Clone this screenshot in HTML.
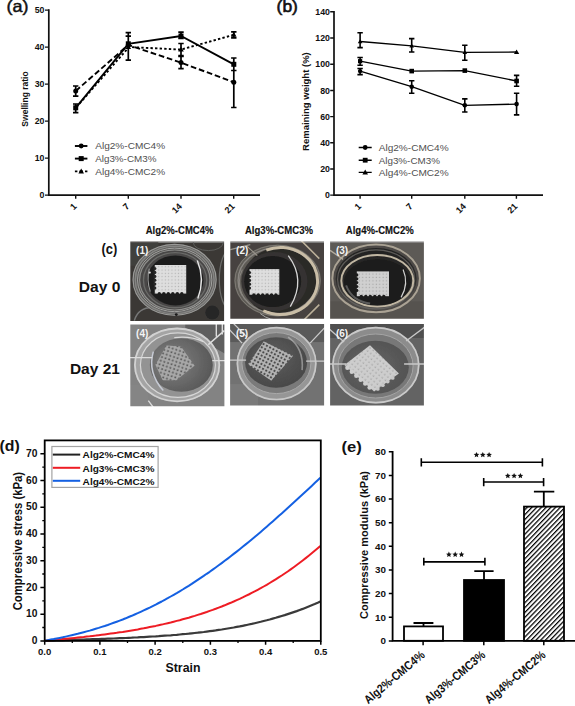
<!DOCTYPE html>
<html><head><meta charset="utf-8">
<style>
html,body{margin:0;padding:0;background:#fff;}
body{width:575px;height:706px;overflow:hidden;position:relative;}
svg{position:absolute;left:0;top:0;display:block;}
text{font-family:"Liberation Sans",sans-serif;}
.b{font-weight:bold;}
</style></head><body>
<svg width="575" height="706" viewBox="0 0 575 706">
<rect x="0" y="0" width="575" height="706" fill="#fff"/>

<!-- ============ PANEL A ============ -->
<g id="pa">
<text x="6.6" y="12.2" font-size="16.5" fill="#111" stroke="#111" stroke-width="0.45" textLength="22" lengthAdjust="spacingAndGlyphs">(a)</text>
<!-- axes -->
<path d="M48.8 9.3 V195.1 H260" fill="none" stroke="#111" stroke-width="1.7"/>
<path d="M45 10.1H48.8 M45 47.1H48.8 M45 84.1H48.8 M45 121.1H48.8 M45 158.1H48.8 M45 195.1H48.8" stroke="#111" stroke-width="1.4"/>
<path d="M75.7 195V198.8 M128.3 195V198.8 M181 195V198.8 M233.7 195V198.8" stroke="#111" stroke-width="1.4"/>
<g font-size="8.8" class="b" fill="#111" text-anchor="end">
<text x="44.5" y="13.1">50</text>
<text x="44.5" y="50.1">40</text>
<text x="44.5" y="87.1">30</text>
<text x="44.5" y="124.1">20</text>
<text x="44.5" y="161.1">10</text>
<text x="44.5" y="198.1">0</text>
</g>
<g font-size="9" class="b" fill="#111" text-anchor="end">
<text transform="translate(77.4,206.9) rotate(-45)">1</text>
<text transform="translate(130.0,206.9) rotate(-45)">7</text>
<text transform="translate(182.5,206.9) rotate(-45)">14</text>
<text transform="translate(235.3,206.9) rotate(-45)">21</text>
</g>
<text transform="translate(27.9,99) rotate(-90)" font-size="8.5" class="b" fill="#111" text-anchor="middle">Swelling ratio</text>

<!-- series lines -->
<g fill="none" stroke="#000" stroke-width="1.9">
<!-- square solid -->
<polyline points="75.7,107.8 128.3,43.8 181,36 233.8,64.3"/>
<!-- circle dashed -->
<polyline points="75.7,91 128.3,45 181,62.6 233.8,82.3" stroke-dasharray="5.7 2.8"/>
<!-- triangle dotted -->
<polyline points="76.5,107 129,47 181,49.6 233.8,34.8" stroke-dasharray="2.4 2.2"/>
</g>
<!-- error bars -->
<g fill="none" stroke="#000" stroke-width="1.7">
<path d="M75.7 86V96.2 M73 86H78.4 M73 96.2H78.4"/>
<path d="M75.7 104V112.7 M73 104H78.4 M73 112.7H78.4"/>
<path d="M128.3 32.7V60.1 M125.6 32.7H131 M125.6 36.1H131 M125.6 60.1H131"/>
<path d="M181 32.2V38.3 M178.3 32.2H183.7 M178.3 38.3H183.7"/>
<path d="M181 43.5V55.7 M178.3 43.5H183.7 M178.3 55.7H183.7"/>
<path d="M181 56.5V68.7 M178.3 56.5H183.7 M178.3 68.7H183.7"/>
<path d="M233.8 31.8V37.8 M231.1 31.8H236.5 M231.1 37.8H236.5"/>
<path d="M233.8 58V107.5 M231.1 58H236.5 M231.1 107.5H236.5 M231.1 70.5H236.5"/>
</g>
<!-- markers -->
<g fill="#000">
<circle cx="75.7" cy="91" r="2.5"/>
<circle cx="128.3" cy="45" r="2.5"/>
<circle cx="181" cy="62.6" r="2.5"/>
<circle cx="233.8" cy="82.3" r="2.5"/>
<rect x="73.2" y="105.3" width="5" height="5"/>
<rect x="125.8" y="41.3" width="5" height="5"/>
<rect x="178.5" y="33.5" width="5" height="5"/>
<rect x="231.3" y="61.8" width="5" height="5"/>
<path d="M128.3 44.2 L131.1 49 H125.5Z"/>
<path d="M181 46.8 L183.8 51.6 H178.2Z"/>
<path d="M233.8 32 L236.6 36.8 H231Z"/>
</g>
<!-- legend -->
<g stroke="#000" stroke-width="1.9" fill="none">
<path d="M74.9 146H87.4"/>
<path d="M74.9 158.6H87.4"/>
<path d="M74.9 171.4H77.4 M79.4 171.4H83 M85 171.4H87.4"/>
</g>
<g fill="#000">
<circle cx="81.2" cy="146" r="2.4"/>
<rect x="78.7" y="156.1" width="5" height="5"/>
<path d="M81.2 168.6 L84 173.4 H78.4Z"/>
</g>
<g font-size="9.6" fill="#505050">
<text x="95.2" y="149.4" textLength="70" lengthAdjust="spacingAndGlyphs">Alg2%-CMC4%</text>
<text x="95.2" y="162" textLength="61.2" lengthAdjust="spacingAndGlyphs">Alg3%-CM3%</text>
<text x="95.2" y="174.8" textLength="70" lengthAdjust="spacingAndGlyphs">Alg4%-CMC2%</text>
</g>
</g>

<!-- ============ PANEL B ============ -->
<g id="pb">
<text x="276.6" y="12.2" font-size="16.5" fill="#111" stroke="#111" stroke-width="0.6" textLength="21.3" lengthAdjust="spacingAndGlyphs">(b)</text>
<path d="M334 11 V195.1 H543" fill="none" stroke="#111" stroke-width="1.7"/>
<path d="M330.2 11.7H334 M330.2 38H334 M330.2 64.3H334 M330.2 90.5H334 M330.2 116.6H334 M330.2 142.8H334 M330.2 169H334 M330.2 195.1H334" stroke="#111" stroke-width="1.4"/>
<path d="M360.1 195V198.8 M411.7 195V198.8 M464.8 195V198.8 M516.4 195V198.8" stroke="#111" stroke-width="1.4"/>
<g font-size="8.8" class="b" fill="#111" text-anchor="end">
<text x="330" y="14.7">140</text>
<text x="330" y="41">120</text>
<text x="330" y="67.3">100</text>
<text x="330" y="93.5">80</text>
<text x="330" y="119.6">60</text>
<text x="330" y="145.8">40</text>
<text x="330" y="172">20</text>
<text x="330" y="198.1">0</text>
</g>
<g font-size="9" class="b" fill="#111" text-anchor="end">
<text transform="translate(361.8,206.9) rotate(-45)">1</text>
<text transform="translate(413.4,206.9) rotate(-45)">7</text>
<text transform="translate(466.5,206.9) rotate(-45)">14</text>
<text transform="translate(518.1,206.9) rotate(-45)">21</text>
</g>
<text transform="translate(309.2,101.6) rotate(-90)" font-size="9.5" class="b" fill="#111" text-anchor="middle">Remaining weight (%)</text>

<g fill="none" stroke="#000" stroke-width="1.3">
<polyline points="360.1,41.5 411.7,45.9 464.8,52.3 516.6,52"/>
<polyline points="360.1,61.2 411.7,71.1 464.8,70.6 516.6,81"/>
<polyline points="360.1,71.1 411.7,86.7 464.8,105.3 516.6,104.1"/>
</g>
<g fill="none" stroke="#000" stroke-width="1.6">
<path d="M360.1 32.8V47.6 M357.4 32.8H362.8 M357.4 47.6H362.8"/>
<path d="M360.1 57.5V65.3 M357.4 57.5H362.8 M357.4 65.3H362.8"/>
<path d="M360.1 68.5V74.6 M357.4 68.5H362.8 M357.4 74.6H362.8"/>
<path d="M411.7 38.6V52 M409 38.6H414.4 M409 52H414.4"/>
<path d="M411.7 80.7V93.2 M409 80.7H414.4 M409 93.2H414.4"/>
<path d="M464.8 45.3V60.3 M462.1 45.3H467.5 M462.1 60.3H467.5"/>
<path d="M464.8 98.9V112 M462.1 98.9H467.5 M462.1 112H467.5"/>
<path d="M516.6 75.4V86.2 M513.9 75.4H519.3 M513.9 86.2H519.3"/>
<path d="M516.6 93.2V114.9 M513.9 93.2H519.3 M513.9 114.9H519.3"/>
</g>
<g fill="#000">
<path d="M360.1 39.2 L362.4 43.2 H357.8Z"/>
<path d="M411.7 43.6 L414 47.6 H409.4Z"/>
<path d="M464.8 50 L467.1 54 H462.5Z"/>
<path d="M516.6 49.4 L519.2 54 H514Z"/>
<rect x="358" y="59.1" width="4.2" height="4.2"/>
<rect x="409.4" y="68.8" width="4.6" height="4.6"/>
<rect x="462.5" y="68.3" width="4.6" height="4.6"/>
<rect x="514.3" y="78.7" width="4.6" height="4.6"/>
<circle cx="360.1" cy="71.1" r="2.2"/>
<circle cx="411.7" cy="86.7" r="2.3"/>
<circle cx="464.8" cy="105.3" r="2.3"/>
<circle cx="516.6" cy="104.1" r="2.3"/>
</g>
<g stroke="#000" stroke-width="1.4" fill="none">
<path d="M358.7 147.5H371.7 M358.7 160.2H371.7 M358.7 172.4H371.7"/>
</g>
<g fill="#000">
<circle cx="365.2" cy="147.5" r="2.4"/>
<rect x="362.8" y="157.8" width="4.8" height="4.8"/>
<path d="M365.2 169.6 L368 174.4 H362.4Z"/>
</g>
<g font-size="9.6" fill="#505050">
<text x="378.7" y="150.9" textLength="70" lengthAdjust="spacingAndGlyphs">Alg2%-CMC4%</text>
<text x="378.7" y="163.6" textLength="61.2" lengthAdjust="spacingAndGlyphs">Alg3%-CM3%</text>
<text x="378.7" y="175.8" textLength="70" lengthAdjust="spacingAndGlyphs">Alg4%-CMC2%</text>
</g>
</g>

<!-- ============ PANEL C ============ -->
<defs>
<filter id="soft" x="-5%" y="-5%" width="110%" height="110%"><feGaussianBlur stdDeviation="0.55"/></filter>
<clipPath id="c1"><rect x="0" y="0" width="94" height="79"/></clipPath>
<clipPath id="c4"><rect x="0" y="0" width="94" height="81"/></clipPath>
<pattern id="grid1" width="3.2" height="3.2" patternUnits="userSpaceOnUse">
<rect width="3.2" height="3.2" fill="#d2d2d2"/><rect x="1.4" y="1.4" width="1.2" height="1.2" fill="#9a9a9a"/>
</pattern>
<pattern id="grid4" width="4" height="4" patternUnits="userSpaceOnUse">
<rect width="4" height="4" fill="#a9a9a9"/><rect x="1.6" y="1.6" width="1.6" height="1.6" fill="#4a4a4a"/>
</pattern>
<pattern id="grid5" width="4.4" height="4.4" patternUnits="userSpaceOnUse">
<rect width="4.4" height="4.4" fill="#b4b4b4"/><rect x="1.5" y="1.5" width="2.2" height="2.2" fill="#3e3e3e"/>
</pattern>
<pattern id="grid6" width="4" height="4" patternUnits="userSpaceOnUse">
<rect width="4" height="4" fill="#c4c4c4"/><rect x="1.6" y="1.6" width="1.3" height="1.3" fill="#8a8a8a"/>
</pattern>
</defs>
<g id="pc">
<g class="b" fill="#111" font-size="10" stroke="#111" stroke-width="0.15">
<text x="145.7" y="234.3" textLength="67.8" lengthAdjust="spacingAndGlyphs">Alg2%-CMC4%</text>
<text x="244.9" y="234.3" textLength="68.1" lengthAdjust="spacingAndGlyphs">Alg3%-CMC3%</text>
<text x="345.8" y="234.3" textLength="67.9" lengthAdjust="spacingAndGlyphs">Alg4%-CMC2%</text>
</g>
<text x="101.5" y="253.8" font-size="15" class="b" fill="#111" textLength="15.8" lengthAdjust="spacingAndGlyphs">(c)</text>
<text x="78.8" y="292.3" font-size="14.6" class="b" fill="#111" textLength="41.6" lengthAdjust="spacingAndGlyphs">Day 0</text>
<text x="69.9" y="373.9" font-size="14.6" class="b" fill="#111" textLength="50" lengthAdjust="spacingAndGlyphs">Day 21</text>

<!-- PHOTOS START -->
<defs>
<pattern id="g0" width="3.3" height="3.3" patternUnits="userSpaceOnUse">
<rect width="3.3" height="3.3" fill="#dedede"/><rect x="1.5" y="1.5" width="1.1" height="1.1" fill="#b0b0b0"/>
</pattern>
<pattern id="g3" width="3.4" height="3.4" patternUnits="userSpaceOnUse">
<rect width="3.4" height="3.4" fill="#d0d0d0"/><rect x="1.5" y="1.5" width="1.1" height="1.1" fill="#a4a4a4"/>
</pattern>
<pattern id="g4" width="3.8" height="3.8" patternUnits="userSpaceOnUse" patternTransform="rotate(18)">
<rect width="3.8" height="3.8" fill="#a8a8a8"/><rect x="1.3" y="1.3" width="1.7" height="1.7" fill="#555"/>
</pattern>
<pattern id="g5" width="3.7" height="3.7" patternUnits="userSpaceOnUse" patternTransform="rotate(28)">
<rect width="3.7" height="3.7" fill="#b4b4b4"/><rect x="1.0" y="1.0" width="1.9" height="1.9" fill="#444"/>
</pattern>
<pattern id="g6" width="4" height="4" patternUnits="userSpaceOnUse" patternTransform="rotate(38)">
<rect width="4" height="4" fill="#cdcdcd"/><rect x="1.6" y="1.6" width="1.3" height="1.3" fill="#a2a2a2"/>
</pattern>
<linearGradient id="b3" x1="0" y1="0" x2="0" y2="1"><stop offset="0" stop-color="#222"/><stop offset="0.5" stop-color="#2c2b2a"/><stop offset="1" stop-color="#545250"/></linearGradient>
<radialGradient id="d4" cx="0.35" cy="0.45" r="0.7"><stop offset="0" stop-color="#838383"/><stop offset="1" stop-color="#555555"/></radialGradient>
<radialGradient id="d5" cx="0.45" cy="0.4" r="0.7"><stop offset="0" stop-color="#5c5c5c"/><stop offset="1" stop-color="#464646"/></radialGradient>
<radialGradient id="d6" cx="0.45" cy="0.5" r="0.7"><stop offset="0" stop-color="#666"/><stop offset="1" stop-color="#4e4e4e"/></radialGradient>
</defs>
<!-- photo 1 -->
<clipPath id="pc1"><rect x="0" y="0" width="93.8" height="79.3"/></clipPath>
<g transform="translate(130.3,241.6)" clip-path="url(#pc1)">
<g filter="url(#soft)">
<rect x="-2" y="-2" width="98" height="83" fill="#3b3936"/>
<rect x="0" y="0" width="94" height="1.2" fill="#8c8c8c"/>
<rect x="-2" y="-2" width="30" height="26" fill="#454340" opacity="0.7"/>
<ellipse cx="100" cy="38" rx="11" ry="30" fill="none" stroke="#6e6e6c" stroke-width="1.2"/>
<ellipse cx="78" cy="1" rx="15" ry="8" fill="none" stroke="#5c5c5a" stroke-width="1"/>
<path d="M4 79 Q8 66 22 66" fill="none" stroke="#777" stroke-width="1.5"/>
<circle cx="82" cy="71" r="7" fill="#262626"/>
<circle cx="64.5" cy="67" r="2" fill="#b8b8b8"/>
<ellipse cx="44.3" cy="38.2" rx="42.2" ry="36" fill="#5a5957"/>
<ellipse cx="44.3" cy="38.2" rx="41.5" ry="35.4" fill="none" stroke="#9a9a98" stroke-width="1.1"/>
<ellipse cx="44.4" cy="38.3" rx="39.4" ry="33.6" fill="none" stroke="#858583" stroke-width="1.6"/>
<ellipse cx="44.4" cy="38.3" rx="37.2" ry="31.8" fill="none" stroke="#a2a2a0" stroke-width="1"/>
<ellipse cx="44.5" cy="38.4" rx="35.2" ry="30" fill="#484746"/>
<ellipse cx="44.5" cy="38.4" rx="35.2" ry="30" fill="none" stroke="#8e8e8c" stroke-width="1.2"/>
<ellipse cx="44.8" cy="38.6" rx="31.6" ry="27.6" fill="none" stroke="#6a6a68" stroke-width="1.4"/>
<ellipse cx="45" cy="38.8" rx="28.2" ry="25" fill="#1e1e1e"/>
<path d="M67 19 Q75 38 67.5 57" fill="none" stroke="#e6e6e6" stroke-width="1.4"/>
<path d="M19 27 Q16 38 20 50" fill="none" stroke="#9a9a9a" stroke-width="1.1"/>
<path d="M30 69 Q45 74 60 68" fill="none" stroke="#6a6a6a" stroke-width="1"/>
<circle cx="19.5" cy="31" r="1.1" fill="#d8d8d8"/>
<circle cx="46" cy="73" r="1.4" fill="#1a1a1a"/>
<rect x="24.5" y="23.4" width="31.4" height="28.6" fill="url(#g0)"/>
<circle cx="24.5" cy="26.9" r="1.6" fill="#262626"/>
<circle cx="24.5" cy="30.8" r="1.6" fill="#262626"/>
<circle cx="24.5" cy="34.8" r="1.6" fill="#262626"/>
<circle cx="24.5" cy="38.6" r="1.6" fill="#262626"/>
<circle cx="24.5" cy="42.5" r="1.6" fill="#262626"/>
<circle cx="24.5" cy="46.4" r="1.6" fill="#262626"/>
<circle cx="29.0" cy="52.2" r="1.7" fill="#1e1e1e"/>
<circle cx="33.5" cy="52.2" r="1.7" fill="#1e1e1e"/>
<circle cx="38.0" cy="52.2" r="1.7" fill="#1e1e1e"/>
<circle cx="42.5" cy="52.2" r="1.7" fill="#1e1e1e"/>
<circle cx="47.0" cy="52.2" r="1.7" fill="#1e1e1e"/>
<circle cx="51.5" cy="52.2" r="1.7" fill="#1e1e1e"/>

</g>
<text x="5.8" y="12.6" font-size="10" class="b" fill="#f4f4f4">(1)</text>
</g>
<!-- photo 2 -->
<clipPath id="pc2"><rect x="0" y="0" width="93.7" height="77.1"/></clipPath>
<g transform="translate(230.3,241.6)" clip-path="url(#pc2)">
<g filter="url(#soft)">
<rect x="-2" y="-2" width="98" height="83" fill="#46433f"/>
<rect x="0" y="0" width="94" height="1.2" fill="#8c8c8c"/>
<ellipse cx="47.3" cy="39" rx="43.4" ry="36" fill="#5e5b56"/>
<ellipse cx="47.3" cy="39" rx="42.6" ry="35.3" fill="none" stroke="#7e7a74" stroke-width="1"/>
<ellipse cx="50.5" cy="39.5" rx="38" ry="34" fill="#2c2a28"/>
<ellipse cx="47.3" cy="39" rx="39.5" ry="33" fill="none" stroke="#8a8782" stroke-width="1.4"/>
<path d="M36 8.5 A37 33.5 0 1 1 33 69" fill="none" stroke="#c9bda6" stroke-width="3"/>
<ellipse cx="44" cy="39.8" rx="33" ry="29.5" fill="#353331"/>
<ellipse cx="42.4" cy="40" rx="28.5" ry="25.5" fill="#1c1c1b"/>
<path d="M58 14 Q76 38 60 65" fill="none" stroke="#d6d6d6" stroke-width="1.3"/>
<path d="M12 28 Q6 40 12 54" fill="none" stroke="#8a8680" stroke-width="1.1"/>
<path d="M70 -2 L89 17 M71 81 L89 63" stroke="#bcb09a" stroke-width="1.5"/>
<path d="M0 8 L20 3 M16 4 L27 14" stroke="#9a958c" stroke-width="1.2"/>
<path d="M30 72 Q40 80 52 78" stroke="#aaa" stroke-width="1" fill="none"/>
<rect x="19.2" y="27.5" width="29.8" height="25.6" fill="url(#g0)"/>
<circle cx="19.2" cy="30.9" r="1.6" fill="#222"/>
<circle cx="19.2" cy="34.9" r="1.6" fill="#222"/>
<circle cx="19.2" cy="38.8" r="1.6" fill="#222"/>
<circle cx="19.2" cy="42.6" r="1.6" fill="#222"/>
<circle cx="19.2" cy="46.5" r="1.6" fill="#222"/>
<circle cx="23.6" cy="53.3" r="1.7" fill="#1c1c1b"/>
<circle cx="28.0" cy="53.3" r="1.7" fill="#1c1c1b"/>
<circle cx="32.4" cy="53.3" r="1.7" fill="#1c1c1b"/>
<circle cx="36.8" cy="53.3" r="1.7" fill="#1c1c1b"/>
<circle cx="41.2" cy="53.3" r="1.7" fill="#1c1c1b"/>
<circle cx="45.6" cy="53.3" r="1.7" fill="#1c1c1b"/>

</g>
<text x="5.8" y="12.6" font-size="10" class="b" fill="#f4f4f4">(2)</text>
</g>
<!-- photo 3 -->
<clipPath id="pc3"><rect x="0" y="0" width="93.8" height="77.3"/></clipPath>
<g transform="translate(330.1,241.4)" clip-path="url(#pc3)">
<g filter="url(#soft)">
<rect x="-2" y="-2" width="98" height="83" fill="#5d5a56"/>
<rect x="0" y="0" width="94" height="1.2" fill="#9a9a9a"/>
<rect x="-2" y="60" width="98" height="22" fill="#56534f"/>
<ellipse cx="46" cy="37" rx="45" ry="35" fill="#4d4a46"/>
<ellipse cx="46" cy="37" rx="43.8" ry="33.9" fill="none" stroke="#aaa294" stroke-width="2"/>
<ellipse cx="46" cy="37.6" rx="40.5" ry="31" fill="url(#b3)"/>
<ellipse cx="46" cy="38" rx="38.5" ry="29.5" fill="none" stroke="#6a6864" stroke-width="1.2" opacity="0.8"/>
<ellipse cx="47.2" cy="39.4" rx="36" ry="25.8" fill="none" stroke="#c0b6a2" stroke-width="2"/>
<ellipse cx="47.2" cy="41" rx="33.5" ry="23.2" fill="#1c1c1b"/>
<path d="M16 44 Q22 60 40 62" fill="none" stroke="#5a5a5a" stroke-width="2"/>
<path d="M73 28 Q79 42 71 56" fill="none" stroke="#d0d0d0" stroke-width="1.2"/>
<path d="M0 9 L13 18" stroke="#b4ac9e" stroke-width="1.3"/>
<rect x="26.7" y="30" width="32.2" height="24.8" fill="url(#g3)"/>
<circle cx="26.7" cy="33.5" r="1.6" fill="#1e1e1e"/>
<circle cx="26.7" cy="37.4" r="1.6" fill="#1e1e1e"/>
<circle cx="26.7" cy="41.2" r="1.6" fill="#1e1e1e"/>
<circle cx="26.7" cy="45.1" r="1.6" fill="#1e1e1e"/>
<circle cx="26.7" cy="49.0" r="1.6" fill="#1e1e1e"/>
<circle cx="31.2" cy="55.0" r="1.7" fill="#1c1c1b"/>
<circle cx="35.7" cy="55.0" r="1.7" fill="#1c1c1b"/>
<circle cx="40.2" cy="55.0" r="1.7" fill="#1c1c1b"/>
<circle cx="44.7" cy="55.0" r="1.7" fill="#1c1c1b"/>
<circle cx="49.2" cy="55.0" r="1.7" fill="#1c1c1b"/>
<circle cx="53.7" cy="55.0" r="1.7" fill="#1c1c1b"/>

</g>
<text x="5.8" y="12.6" font-size="10" class="b" fill="#f4f4f4">(3)</text>
</g>
<!-- photo 4 -->
<clipPath id="pc4"><rect x="0" y="0" width="94.1" height="81.6"/></clipPath>
<g transform="translate(130.3,324.6)" clip-path="url(#pc4)">
<g filter="url(#soft)">
<rect x="-2" y="-2" width="98" height="85" fill="#838383"/>
<path d="M55 -2 H96 V30 Q80 20 55 8Z" fill="#5e5e5e"/>
<rect x="-2" y="60" width="20" height="25" fill="#858585"/>
<ellipse cx="46.8" cy="40.3" rx="43" ry="37.2" fill="#a4a4a4"/>
<ellipse cx="46.8" cy="40.3" rx="42.2" ry="36.4" fill="none" stroke="#d2d2d2" stroke-width="1.8"/>
<ellipse cx="47.6" cy="40.5" rx="37.5" ry="32.3" fill="#939393"/>
<ellipse cx="47.6" cy="40.5" rx="37.5" ry="32.3" fill="none" stroke="#d6d6d6" stroke-width="1.2"/>
<ellipse cx="51" cy="40.4" rx="31.5" ry="26.8" fill="url(#d4)"/>
<path d="M23 27 Q17 48 33 66" fill="none" stroke="#c6cad4" stroke-width="1.5"/>
<path d="M44 13 Q60 11 73 17" fill="none" stroke="#dadada" stroke-width="1.3"/>
<path d="M78 20 L94 6 M86 12 L86 -2 M92 10 L92 -2 M82 36 L96 36 M-2 33 L22 33 M18 76 L24 84" stroke="#dcdcdc" stroke-width="1.4"/>
<polygon points="36.1,20.8 50.7,21.8 64.3,41.1 46,55.7 32.4,55.7 25.1,40.1" fill="url(#g4)"/>

</g>
<text x="5.8" y="12.6" font-size="10" class="b" fill="#f4f4f4">(4)</text>
</g>
<!-- photo 5 -->
<clipPath id="pc5"><rect x="0" y="0" width="94.0" height="81.4"/></clipPath>
<g transform="translate(230.1,324.1)" clip-path="url(#pc5)">
<g filter="url(#soft)">
<rect x="-2" y="-2" width="98" height="85" fill="#727272"/>
<rect x="-2" y="-2" width="98" height="20" fill="#5a5a5a"/>
<rect x="-2" y="60" width="30" height="25" fill="#7a7a7a"/>
<ellipse cx="46.5" cy="39.5" rx="40" ry="36.7" fill="#969696"/>
<ellipse cx="46.5" cy="39.5" rx="39.2" ry="35.9" fill="none" stroke="#c8c8c8" stroke-width="1.7"/>
<ellipse cx="46.3" cy="39" rx="34.5" ry="30.5" fill="#7a7a7a"/>
<ellipse cx="46.3" cy="39" rx="34.5" ry="30.5" fill="none" stroke="#a8a8a8" stroke-width="1"/>
<ellipse cx="46" cy="38.4" rx="31" ry="25.2" fill="url(#d5)"/>
<path d="M58 13 Q74 24 72 46" fill="none" stroke="#c8c8c8" stroke-width="1.6" opacity="0.55"/>
<path d="M-2 4 L12 19 M2 -2 L17 13 M80 19 L96 2 M-2 36 L16 36 M76 37 L96 37" stroke="#cacaca" stroke-width="1.3"/>
<polygon points="33.7,17.1 63,31.7 41.1,56.7 17.9,40.2" fill="url(#g5)"/>

</g>
<text x="5.8" y="12.6" font-size="10" class="b" fill="#f4f4f4">(5)</text>
</g>
<!-- photo 6 -->
<clipPath id="pc6"><rect x="0" y="0" width="93.8" height="81.4"/></clipPath>
<g transform="translate(330.1,324.0)" clip-path="url(#pc6)">
<g filter="url(#soft)">
<rect x="-2" y="-2" width="98" height="85" fill="#646464"/>
<rect x="-2" y="-2" width="98" height="16" fill="#505050"/>
<ellipse cx="45.7" cy="41.1" rx="43.8" ry="38.4" fill="#8c8c8c"/>
<ellipse cx="45.7" cy="41.1" rx="42.9" ry="37.5" fill="none" stroke="#cacaca" stroke-width="1.7"/>
<ellipse cx="45.5" cy="42" rx="37.5" ry="32" fill="#787878"/>
<ellipse cx="45.5" cy="42" rx="37.5" ry="32" fill="none" stroke="#a4a4a4" stroke-width="1"/>
<ellipse cx="45.2" cy="43.2" rx="33.5" ry="26.5" fill="url(#d6)"/>
<path d="M-2 4 L14 18 M76 17 L96 2 M-2 40 L16 40 M74 40 L96 40" stroke="#c8c8c8" stroke-width="1.3"/>
<polygon points="14.3,41.1 39.9,21.3 68.8,49.4 44,67.6" fill="url(#g6)"/>
<circle cx="17.3" cy="43.8" r="2.2" fill="#cfcfcf"/><circle cx="21.7" cy="47.7" r="2.2" fill="#cfcfcf"/><circle cx="26.2" cy="51.7" r="2.2" fill="#cfcfcf"/><circle cx="30.6" cy="55.7" r="2.2" fill="#cfcfcf"/><circle cx="35.1" cy="59.6" r="2.2" fill="#cfcfcf"/><circle cx="39.5" cy="63.6" r="2.2" fill="#cfcfcf"/><circle cx="47.7" cy="64.9" r="1.9" fill="#c8c8c8"/><circle cx="52.7" cy="61.2" r="1.9" fill="#c8c8c8"/><circle cx="57.6" cy="57.6" r="1.9" fill="#c8c8c8"/><circle cx="62.6" cy="53.9" r="1.9" fill="#c8c8c8"/>

</g>
<text x="5.8" y="12.6" font-size="10" class="b" fill="#f4f4f4">(6)</text>
</g>
<!-- PHOTOS END -->
</g>

<!-- ============ PANEL D ============ -->
<g id="pd">
<text x="-0.5" y="450.8" font-size="15" class="b" fill="#111" textLength="20.3" lengthAdjust="spacingAndGlyphs">(d)</text>
<g fill="none" stroke-width="2" stroke-linejoin="round">
<polyline points="44.7,640.9 47.7,640.8 50.7,640.7 53.7,640.6 56.7,640.5 59.7,640.4 62.7,640.3 65.7,640.2 68.7,640.1 71.7,640.0 74.7,639.9 77.7,639.7 80.7,639.6 83.7,639.5 86.7,639.4 89.7,639.3 92.7,639.2 95.7,639.1 98.7,639.0 101.7,638.9 104.7,638.8 107.7,638.7 110.7,638.6 113.7,638.5 116.7,638.3 119.7,638.2 122.7,638.1 125.7,638.0 128.7,637.8 131.7,637.7 134.7,637.5 137.7,637.4 140.7,637.2 143.7,637.1 146.7,636.9 149.7,636.7 152.7,636.5 155.7,636.4 158.7,636.2 161.7,635.9 164.7,635.7 167.7,635.5 170.7,635.3 173.7,635.0 176.7,634.8 179.7,634.5 182.7,634.2 185.7,634.0 188.7,633.7 191.7,633.3 194.7,633.0 197.7,632.7 200.7,632.3 203.7,632.0 206.7,631.6 209.7,631.2 212.7,630.8 215.7,630.4 218.7,629.9 221.7,629.5 224.7,629.0 227.7,628.5 230.7,628.0 233.7,627.5 236.7,626.9 239.7,626.4 242.7,625.8 245.7,625.2 248.7,624.5 251.7,623.9 254.7,623.2 257.7,622.5 260.7,621.8 263.7,621.0 266.7,620.3 269.7,619.5 272.7,618.6 275.7,617.8 278.7,616.9 281.7,616.0 284.7,615.1 287.7,614.1 290.7,613.1 293.7,612.1 296.7,611.1 299.7,610.0 302.7,608.9 305.7,607.7 308.7,606.5 311.7,605.3 314.7,604.1 317.7,602.8 320.3,601.6" stroke="#3a3a3a" stroke-width="2.2"/>
<polyline points="44.7,640.9 47.7,640.5 50.7,640.2 53.7,640.0 56.7,639.7 59.7,639.4 62.7,639.1 65.7,638.8 68.7,638.5 71.7,638.2 74.7,637.9 77.7,637.6 80.7,637.3 83.7,637.0 86.7,636.6 89.7,636.3 92.7,635.9 95.7,635.6 98.7,635.2 101.7,634.8 104.7,634.4 107.7,634.0 110.7,633.6 113.7,633.2 116.7,632.8 119.7,632.3 122.7,631.9 125.7,631.4 128.7,630.9 131.7,630.4 134.7,629.9 137.7,629.4 140.7,628.8 143.7,628.3 146.7,627.7 149.7,627.1 152.7,626.5 155.7,625.9 158.7,625.2 161.7,624.6 164.7,623.9 167.7,623.2 170.7,622.5 173.7,621.7 176.7,620.9 179.7,620.2 182.7,619.3 185.7,618.5 188.7,617.7 191.7,616.8 194.7,615.9 197.7,614.9 200.7,614.0 203.7,613.0 206.7,612.0 209.7,610.9 212.7,609.9 215.7,608.8 218.7,607.6 221.7,606.5 224.7,605.3 227.7,604.0 230.7,602.8 233.7,601.5 236.7,600.1 239.7,598.8 242.7,597.4 245.7,595.9 248.7,594.5 251.7,592.9 254.7,591.4 257.7,589.8 260.7,588.2 263.7,586.5 266.7,584.8 269.7,583.0 272.7,581.2 275.7,579.3 278.7,577.4 281.7,575.5 284.7,573.5 287.7,571.5 290.7,569.4 293.7,567.2 296.7,565.0 299.7,562.8 302.7,560.5 305.7,558.1 308.7,555.7 311.7,553.3 314.7,550.8 317.7,548.2 320.3,545.9" stroke="#ee1c24"/>
<polyline points="44.7,640.9 47.7,640.2 50.7,639.6 53.7,639.1 56.7,638.5 59.7,637.9 62.7,637.3 65.7,636.6 68.7,635.9 71.7,635.2 74.7,634.5 77.7,633.8 80.7,633.0 83.7,632.2 86.7,631.4 89.7,630.6 92.7,629.7 95.7,628.8 98.7,627.9 101.7,626.9 104.7,626.0 107.7,625.0 110.7,623.9 113.7,622.8 116.7,621.7 119.7,620.6 122.7,619.5 125.7,618.3 128.7,617.0 131.7,615.8 134.7,614.5 137.7,613.2 140.7,611.8 143.7,610.4 146.7,609.0 149.7,607.6 152.7,606.1 155.7,604.6 158.7,603.0 161.7,601.5 164.7,599.8 167.7,598.2 170.7,596.5 173.7,594.8 176.7,593.1 179.7,591.3 182.7,589.5 185.7,587.6 188.7,585.8 191.7,583.9 194.7,581.9 197.7,579.9 200.7,577.9 203.7,575.9 206.7,573.8 209.7,571.8 212.7,569.6 215.7,567.5 218.7,565.3 221.7,563.1 224.7,560.8 227.7,558.6 230.7,556.3 233.7,553.9 236.7,551.6 239.7,549.2 242.7,546.8 245.7,544.4 248.7,541.9 251.7,539.4 254.7,536.9 257.7,534.4 260.7,531.9 263.7,529.3 266.7,526.7 269.7,524.1 272.7,521.5 275.7,518.8 278.7,516.1 281.7,513.5 284.7,510.8 287.7,508.0 290.7,505.3 293.7,502.6 296.7,499.8 299.7,497.0 302.7,494.3 305.7,491.5 308.7,488.7 311.7,485.9 314.7,483.1 317.7,480.2 320.3,477.8" stroke="#1460e2"/>
</g>
<rect x="44.7" y="440.4" width="276.1" height="200.5" fill="none" stroke="#000" stroke-width="1.8"/>
<path d="M40.4 640.9H44.7 M40.4 614.2H44.7 M40.4 587.4H44.7 M40.4 560.7H44.7 M40.4 533.9H44.7 M40.4 507.2H44.7 M40.4 480.5H44.7 M40.4 453.7H44.7 M44.7 640.9V644.8 M99.9 640.9V644.8 M155.1 640.9V644.8 M210.4 640.9V644.8 M265.6 640.9V644.8 M320.8 640.9V644.8 " stroke="#000" stroke-width="1.5"/>
<path d="M42.3 627.5H44.7 M42.3 600.8H44.7 M42.3 574.0H44.7 M42.3 547.3H44.7 M42.3 520.6H44.7 M42.3 493.8H44.7 M42.3 467.1H44.7 M72.3 640.9V643.1 M127.5 640.9V643.1 M182.8 640.9V643.1 M238.0 640.9V643.1 M293.2 640.9V643.1 " stroke="#000" stroke-width="1.3"/>
<g font-size="10.3" class="b" fill="#111" text-anchor="end"><text x="37.4" y="644.0">0</text><text x="37.4" y="617.3">10</text><text x="37.4" y="590.5">20</text><text x="37.4" y="563.8">30</text><text x="37.4" y="537.0">40</text><text x="37.4" y="510.3">50</text><text x="37.4" y="483.6">60</text><text x="37.4" y="456.8">70</text></g>
<g font-size="9.5" class="b" fill="#111" text-anchor="middle"><text x="44.7" y="654.6">0.0</text><text x="99.9" y="654.6">0.1</text><text x="155.1" y="654.6">0.2</text><text x="210.4" y="654.6">0.3</text><text x="265.6" y="654.6">0.4</text><text x="320.8" y="654.6">0.5</text></g>
<text x="183" y="672.3" font-size="12.3" class="b" fill="#111" text-anchor="middle">Strain</text>
<text transform="translate(21.6,541.1) rotate(-90)" font-size="12.6" class="b" fill="#111" text-anchor="middle" textLength="138.5" lengthAdjust="spacingAndGlyphs">Compressive stress (kPa)</text>
<rect x="51.9" y="446.5" width="106.2" height="40.9" fill="#fff" stroke="#a4a4a4" stroke-width="1.2"/>
<path d="M52.8 454.6H80.2" stroke="#222" stroke-width="2"/>
<path d="M52.8 467.8H80.2" stroke="#ee1c24" stroke-width="2"/>
<path d="M52.8 480.8H80.2" stroke="#1460e2" stroke-width="2"/>
<g font-size="9.6" class="b" fill="#111">
<text x="82.6" y="458.2" textLength="71.8" lengthAdjust="spacingAndGlyphs">Alg2%-CMC4%</text>
<text x="82.6" y="471.5" textLength="71.8" lengthAdjust="spacingAndGlyphs">Alg3%-CMC3%</text>
<text x="82.6" y="484.6" textLength="71.8" lengthAdjust="spacingAndGlyphs">Alg4%-CMC2%</text>
</g>
</g>

<!-- ============ PANEL E ============ -->
<defs>
<pattern id="hatch" width="3.4" height="3.4" patternUnits="userSpaceOnUse" patternTransform="rotate(44)">
<rect width="3.4" height="3.4" fill="#fff"/><rect x="0" y="0" width="1.25" height="3.4" fill="#000"/>
</pattern>
</defs>
<g id="pe">
<text x="341.4" y="451.6" font-size="15" class="b" fill="#111" textLength="20.3" lengthAdjust="spacingAndGlyphs">(e)</text>
<path d="M392.6 451V640.8 H575" fill="none" stroke="#000" stroke-width="1.8"/>
<path d="M388.8 640.9H392.6 M388.8 617.3H392.6 M388.8 593.6H392.6 M388.8 570.0H392.6 M388.8 546.3H392.6 M388.8 522.7H392.6 M388.8 499.1H392.6 M388.8 475.4H392.6 M388.8 451.8H392.6 " stroke="#000" stroke-width="1.5"/>
<path d="M423.1 640.8V645.2 M483.8 640.8V645.2 M543.8 640.8V645.2" stroke="#000" stroke-width="1.5"/>
<g font-size="9.8" class="b" fill="#111" text-anchor="end"><text x="386" y="644.2">0</text><text x="386" y="620.6">10</text><text x="386" y="596.9">20</text><text x="386" y="573.3">30</text><text x="386" y="549.6">40</text><text x="386" y="526.0">50</text><text x="386" y="502.4">60</text><text x="386" y="478.7">70</text><text x="386" y="455.1">80</text></g>
<text transform="translate(368.3,545) rotate(-90)" font-size="11" class="b" fill="#111" text-anchor="middle">Compressive modulus (kPa)</text>
<!-- bars -->
<rect x="404" y="626.4" width="39" height="14.4" fill="#fff" stroke="#000" stroke-width="1.8"/>
<rect x="464" y="580" width="40" height="60.8" fill="#000" stroke="#000" stroke-width="1.8"/>
<rect x="524" y="506.6" width="40" height="134.2" fill="url(#hatch)" stroke="#000" stroke-width="1.8"/>
<path d="M423.5 626.4V623 M413.5 623H433.4 M484 580V571.2 M474.3 571.2H493.6 M543.8 506.6V491.7 M533.9 491.7H554.3" stroke="#000" stroke-width="1.8" fill="none"/>
<!-- brackets -->
<path d="M423.8 561.9H484.9 M423.8 557.7V565.5 M484.9 557.7V565.5" stroke="#000" stroke-width="1.6" fill="none"/>
<path d="M421.3 462.2H542.4 M421.3 458.2V466.6 M542.4 458.2V466.6" stroke="#000" stroke-width="1.6" fill="none"/>
<path d="M483.7 482H543.6 M483.7 478V486.3 M543.6 478V486.3" stroke="#000" stroke-width="1.6" fill="none"/>
<g fill="#111"><polygon points="448.90,551.60 449.72,553.47 451.75,553.67 450.23,555.03 450.66,557.03 448.90,556.00 447.14,557.03 447.57,555.03 446.05,553.67 448.08,553.47"/><polygon points="455.20,551.60 456.02,553.47 458.05,553.67 456.53,555.03 456.96,557.03 455.20,556.00 453.44,557.03 453.87,555.03 452.35,553.67 454.38,553.47"/><polygon points="461.50,551.60 462.32,553.47 464.35,553.67 462.83,555.03 463.26,557.03 461.50,556.00 459.74,557.03 460.17,555.03 458.65,553.67 460.68,553.47"/><polygon points="476.50,451.90 477.32,453.77 479.35,453.97 477.83,455.33 478.26,457.33 476.50,456.30 474.74,457.33 475.17,455.33 473.65,453.97 475.68,453.77"/><polygon points="482.80,451.90 483.62,453.77 485.65,453.97 484.13,455.33 484.56,457.33 482.80,456.30 481.04,457.33 481.47,455.33 479.95,453.97 481.98,453.77"/><polygon points="489.10,451.90 489.92,453.77 491.95,453.97 490.43,455.33 490.86,457.33 489.10,456.30 487.34,457.33 487.77,455.33 486.25,453.97 488.28,453.77"/><polygon points="507.80,472.90 508.62,474.77 510.65,474.97 509.13,476.33 509.56,478.33 507.80,477.30 506.04,478.33 506.47,476.33 504.95,474.97 506.98,474.77"/><polygon points="514.10,472.90 514.92,474.77 516.95,474.97 515.43,476.33 515.86,478.33 514.10,477.30 512.34,478.33 512.77,476.33 511.25,474.97 513.28,474.77"/><polygon points="520.40,472.90 521.22,474.77 523.25,474.97 521.73,476.33 522.16,478.33 520.40,477.30 518.64,478.33 519.07,476.33 517.55,474.97 519.58,474.77"/></g>
<g font-size="12" class="b" fill="#111" text-anchor="end">
<text transform="translate(425.6,656.3) rotate(-40)" textLength="75" lengthAdjust="spacingAndGlyphs">Alg2%-CMC4%</text>
<text transform="translate(486.2,656.3) rotate(-40)" textLength="75" lengthAdjust="spacingAndGlyphs">Alg3%-CMC3%</text>
<text transform="translate(546.4,656.3) rotate(-40)" textLength="75" lengthAdjust="spacingAndGlyphs">Alg4%-CMC2%</text>
</g>
</g>

</svg>
</body></html>
